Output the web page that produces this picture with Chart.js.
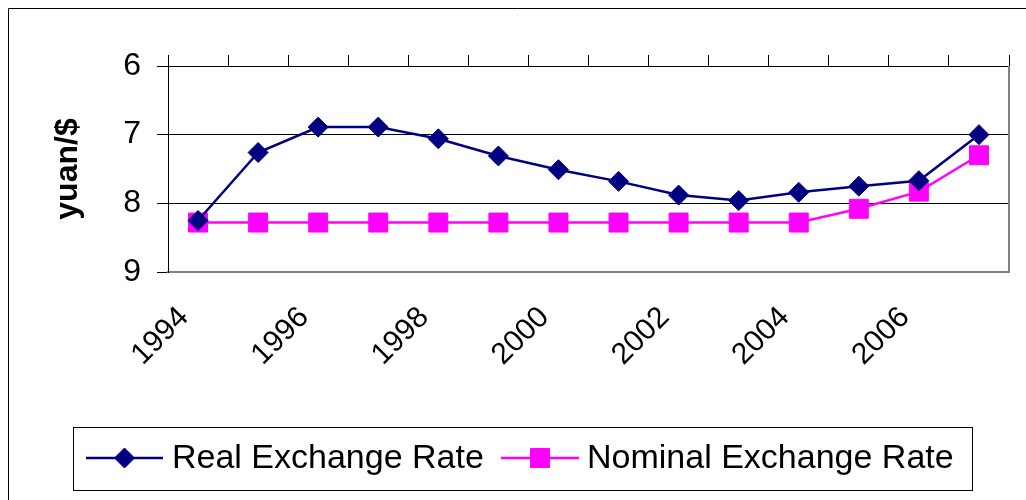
<!DOCTYPE html>
<html>
<head>
<meta charset="utf-8">
<script src="https://cdn.jsdelivr.net/npm/chart.js@4.4.1/dist/chart.umd.min.js"></script>
<style>
  html, body { margin: 0; padding: 0; background: #fff; }
  #wrap { width: 1026px; height: 500px; }
</style>
</head>
<body>
<div id="wrap"><canvas id="chart" width="1026" height="500"></canvas></div>
<script>
// Dados
const years = ['1994', '1995', '1996', '1997', '1998', '1999', '2000',
               '2001', '2002', '2003', '2004', '2005', '2006', '2007'];
const realRate = [8.25, 7.26, 6.89, 6.89, 7.06, 7.31, 7.51, 7.68, 7.88, 7.96, 7.84, 7.75, 7.67, 7.00];
const nominalRate = [8.28, 8.28, 8.28, 8.28, 8.28, 8.28, 8.28, 8.28, 8.28, 8.28, 8.28, 8.08, 7.83, 7.30];
const yMin = 6, yMax = 9, yStep = 1;

const FONT = "'Liberation Sans', Arial, sans-serif";
const NAVY = '#000080';
const PINK = '#ff00ff';

// Moldura externa, borda direita do plot e legenda desenhada à mão
const framePlugin = {
  id: 'frame',
  beforeDraw(chart) {
    const c = chart.ctx;
    c.save();
    c.fillStyle = '#fff';
    c.fillRect(0, 0, chart.width, chart.height);
    c.strokeStyle = '#000';
    c.lineWidth = 1;
    c.beginPath();
    c.moveTo(8.5, chart.height + 5); c.lineTo(8.5, 8.5); c.lineTo(chart.width + 5, 8.5);
    c.stroke();
    c.restore();
  },
  afterDraw(chart) {
    const c = chart.ctx;
    const a = chart.chartArea;
    c.save();
    // borda direita cinza
    c.strokeStyle = '#808080';
    c.lineWidth = 2;
    c.beginPath();
    c.moveTo(a.right, a.top); c.lineTo(a.right, a.bottom + 1);
    c.stroke();

    // legenda
    c.strokeStyle = '#000';
    c.lineWidth = 1;
    c.strokeRect(73.5, 427.5, 899, 63);
    const items = [
      { ds: chart.data.datasets[0], x0: 86, x1: 163, tx: 172 },
      { ds: chart.data.datasets[1], x0: 501, x1: 579, tx: 587 }
    ];
    const ly = 458;
    c.font = '34px ' + FONT;
    c.textBaseline = 'middle';
    c.textAlign = 'left';
    items.forEach(it => {
      c.strokeStyle = it.ds.borderColor;
      c.lineWidth = it.ds.borderWidth;
      c.beginPath();
      c.moveTo(it.x0, ly); c.lineTo(it.x1, ly);
      c.stroke();
      c.fillStyle = it.ds.pointBackgroundColor;
      c.strokeStyle = it.ds.pointBorderColor;
      c.lineWidth = 1;
      Chart.helpers.drawPoint(c, {
        pointStyle: it.ds.pointStyle, radius: it.ds.pointRadius, borderWidth: 1, rotation: 0
      }, (it.x0 + it.x1) / 2, ly);
      c.fillStyle = '#000';
      c.fillText(it.ds.label, it.tx, ly + 1);
    });
    c.restore();
  }
};

const ctx = document.getElementById('chart').getContext('2d');
new Chart(ctx, {
  type: 'line',
  data: {
    labels: years,
    datasets: [
      {
        label: 'Real Exchange Rate',
        data: realRate,
        borderColor: NAVY,
        borderWidth: 2.5,
        pointStyle: 'rectRot',
        pointRadius: 10,
        pointBackgroundColor: NAVY,
        pointBorderColor: NAVY,
        pointBorderWidth: 1,
        tension: 0
      },
      {
        label: 'Nominal Exchange Rate',
        data: nominalRate,
        borderColor: PINK,
        borderWidth: 2.5,
        pointStyle: 'rect',
        pointRadius: 13.4,
        pointBackgroundColor: PINK,
        pointBorderColor: PINK,
        pointBorderWidth: 1,
        tension: 0
      }
    ]
  },
  options: {
    responsive: false,
    animation: false,
    devicePixelRatio: 1,
    layout: { padding: { left: 0, top: 0, right: 17, bottom: 0 } },
    plugins: {
      legend: { display: false },
      tooltip: { enabled: false }
    },
    scales: {
      x: {
        type: 'category',
        position: 'bottom',
        offset: true,
        grid: { display: false, offset: true },
        border: { display: true, color: '#808080', width: 2 },
        ticks: {
          autoSkip: false,
          minRotation: 45,
          maxRotation: 45,
          padding: 20,
          labelOffset: -14,
          color: '#000',
          font: { family: FONT, size: 30 },
          callback: (v, i) => (i % 2 === 0 ? years[i] : '')
        },
        afterFit: s => { s.height = 228; }
      },
      xTop: {
        type: 'category',
        position: 'top',
        offset: true,
        grid: { display: true, drawOnChartArea: false, offset: true, tickLength: 11, color: '#000', tickColor: '#000' },
        border: { display: true, color: '#000', width: 1 },
        ticks: { display: false },
        afterFit: s => { s.height = 66; }
      },
      y: {
        reverse: true,
        min: yMin,
        max: yMax,
        grid: {
          color: c => (c.tick && (c.tick.value === yMin || c.tick.value === yMax) ? 'rgba(0,0,0,0)' : '#000'),
          tickColor: '#000',
          tickLength: 11,
          lineWidth: 1
        },
        border: { display: true, color: '#000', width: 1 },
        ticks: {
          stepSize: yStep,
          padding: 16,
          color: '#000',
          font: { family: FONT, size: 32 }
        },
        title: {
          display: true,
          text: 'yuan/$',
          color: '#000',
          font: { family: FONT, size: 32, weight: 'bold' },
          padding: { top: 49, bottom: 0 }
        },
        afterFit: s => { s.width = 168; }
      }
    }
  },
  plugins: [framePlugin]
});
</script>
</body>
</html>
